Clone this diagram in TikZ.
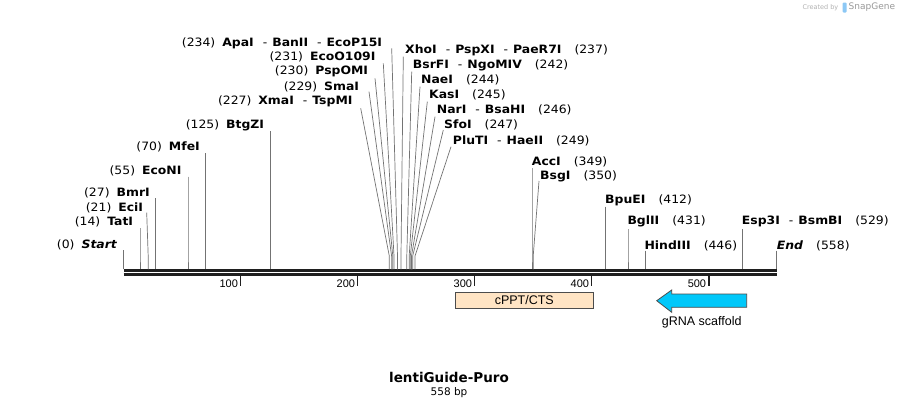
\documentclass[tikz,border=0pt]{standalone}
\usepackage{fontspec}
\setmainfont{DejaVu Sans}
\newfontfamily\labfont{DejaVu Sans}[FakeStretch=1.08]
\newfontfamily\arialf{Liberation Sans}
\newcommand{\enzsep}{\hspace{9pt}-\hspace{5pt}}
\newcommand{\numL}[1]{(#1)\hspace{7pt}}
\newcommand{\numR}[1]{\hspace{13pt}(#1)}
\newcommand{\cutline}[3]{%
  \coordinate (#1t) at (#2);
  \coordinate (#1b) at (#3);
  \draw[cut] (#1t) -- (#1b) -- (#1b |- bb);}
\begin{document}
\begin{tikzpicture}[x=1pt,y=-1pt,
  lab/.style={font=\labfont\fontsize{11.5}{13}\selectfont, inner sep=0pt},
  labL/.style={lab, anchor=east},
  labR/.style={lab, anchor=west},
  cut/.style={draw=black!55, line width=0.7pt},
  backbone/.style={draw=black!88},
  tickmark/.style={draw=black!88, line width=1.4pt},
  ticklab/.style={font=\arialf\fontsize{11}{13}\selectfont, inner sep=0pt, anchor=base east},
  featlab/.style={font=\arialf\fontsize{12.5}{14}\selectfont, inner sep=0pt}]
\useasboundingbox (0,0) rectangle (900,408);
\fill[white] (0,0) rectangle (900,408);
\coordinate (bb) at (0,269.3);

% backbone
\coordinate (bs) at (123.6,270.6);
\coordinate (be) at (776.6,270.6);
\draw[backbone, line width=2.8pt] (bs) -- (be);
\coordinate (bs2) at (123.6,274.6);
\coordinate (be2) at (776.6,274.6);
\draw[backbone, line width=2.4pt] (bs2) -- (be2);

% ticks
\foreach \t/\x in {100/240.6,200/357.7,300/474.7,400/591.7,500/708.8}{
  \coordinate (tk\t) at (\x,275.5);
  \draw[tickmark] (tk\t) -- ++(0,10);
  \node[ticklab] (tl\t) at (\x-2.5,287) {\t};
}

% left labels
\node[labL] (apa) at (382.3,43.3) {\numL{234}\textbf{ApaI}\enzsep\textbf{BanII}\enzsep\textbf{EcoP15I}};
\node[labL] (ecoo) at (375.7,56.8) {\numL{231}\textbf{EcoO109I}};
\node[labL] (psp) at (368.3,71.7) {\numL{230}\textbf{PspOMI}};
\node[labL] (sma) at (359.3,86.7) {\numL{229}\textbf{SmaI}};
\node[labL] (xma) at (352.7,101.7) {\numL{227}\textbf{XmaI}\enzsep\textbf{TspMI}};
\node[labL] (btg) at (264.3,125) {\numL{125}\textbf{BtgZI}};
\node[labL] (mfe) at (200,146.7) {\numL{70}\textbf{MfeI}};
\node[labL] (econ) at (181.7,171) {\numL{55}\textbf{EcoNI}};
\node[labL] (bmr) at (150,192.7) {\numL{27}\textbf{BmrI}};
\node[labL] (eci) at (143.3,207.7) {\numL{21}\textbf{EciI}};
\node[labL] (tat) at (133.3,221.7) {\numL{14}\textbf{TatI}};
\node[labL] (start) at (117.5,245) {\numL{0}\textbf{\itshape Start}};

% right labels
\node[labR] (xho) at (405,50) {\textbf{XhoI}\enzsep\textbf{PspXI}\enzsep\textbf{PaeR7I}\numR{237}};
\node[labR] (bsrf) at (412.7,65) {\textbf{BsrFI}\enzsep\textbf{NgoMIV}\numR{242}};
\node[labR] (nae) at (421,79.6) {\textbf{NaeI}\numR{244}};
\node[labR] (kas) at (429,95) {\textbf{KasI}\numR{245}};
\node[labR] (nar) at (436.7,110) {\textbf{NarI}\enzsep\textbf{BsaHI}\numR{246}};
\node[labR] (sfo) at (444,125) {\textbf{SfoI}\numR{247}};
\node[labR] (plu) at (452.7,141) {\textbf{PluTI}\enzsep\textbf{HaeII}\numR{249}};
\node[labR] (acc) at (531.7,161.7) {\textbf{AccI}\numR{349}};
\node[labR] (bsg) at (540,176.7) {\textbf{BsgI}\numR{350}};
\node[labR] (bpu) at (605,200.7) {\textbf{BpuEI}\numR{412}};
\node[labR] (bgl) at (627.3,221.7) {\textbf{BglII}\numR{431}};
\node[labR] (hind) at (644.3,245.7) {\textbf{HindIII}\numR{446}};
\node[labR] (esp) at (741.7,221.7) {\textbf{Esp3I}\enzsep\textbf{BsmBI}\numR{529}};
\node[labR] (endl) at (776.7,245.7) {\textbf{\itshape End}\numR{558}};

% cut lines (left)
\cutline{apa}{391.7,48.3}{397.5,256}
\cutline{ecoo}{383.3,63.3}{394.0,256}
\cutline{psp}{375,78.3}{392.8,256}
\cutline{sma}{369,91.7}{391.6,256}
\cutline{xma}{360.7,108.3}{389.3,256}
\cutline{btg}{269.9,131}{269.9,256}
\cutline{mfe}{205.5,153}{205.5,256}
\cutline{econ}{188,176.7}{188,256}
\cutline{bmr}{155.2,198}{155.2,256}
\cutline{eci}{146.7,212.7}{148.2,256}
\cutline{tat}{140,228}{140,256}
\cutline{start}{123.6,250}{123.6,256}
% cut lines (right)
\cutline{xho}{403.3,56.7}{401.0,256}
\cutline{bsrf}{411.7,71.7}{406.8,256}
\cutline{nae}{420,86.7}{409.2,256}
\cutline{kas}{427.3,101.7}{410.3,256}
\cutline{nar}{435,116.7}{411.5,256}
\cutline{sfo}{443.3,130}{412.7,256}
\cutline{plu}{451,146.7}{415.0,256}
\cutline{acc}{532,168}{532,256}
\cutline{bsg}{539,181}{533.2,256}
\cutline{bpu}{605.7,206.7}{605.7,256}
\cutline{bgl}{628,229}{628,256}
\cutline{hind}{645.6,250.5}{645.6,256}
\cutline{esp}{742.7,229}{742.7,256}
\cutline{endc}{776.6,250.5}{776.6,256}

% features
\node[draw=black!70, line width=0.8pt, fill={rgb,255:red,255;green,228;blue,196},
      minimum width=138.5pt, minimum height=16pt, inner sep=0pt, featlab] (cppt) at (524.3,300.3) {cPPT/CTS};
\coordinate (ga) at (746.7,294);
\draw[draw=black!70, line width=0.8pt, fill={rgb,255:red,0;green,200;blue,250}]
  (ga) -- (671.7,294) -- (671.7,290) -- (656.7,300.7) -- (671.7,312.3) -- (671.7,307.3) -- (746.7,307.3) -- cycle;
\node[featlab] (grna) at (701.7,322.5) {gRNA scaffold};

% title
\node[font=\bfseries\fontsize{13.5}{16}\selectfont, inner sep=0pt] (title) at (449,377) {lentiGuide-Puro};
\node[font=\fontsize{10.5}{12}\selectfont, inner sep=0pt] (len) at (449,392.5) {558 bp};

% created by
\node[font=\fontsize{6.5}{8}\selectfont, text=black!30, inner sep=0pt, anchor=east] (cb) at (838.5,7.5) {Created by};
\fill[fill={rgb,255:red,140;green,200;blue,245}, rounded corners=1pt] (842.5,2.5) rectangle (846.5,12.5);
\node[font=\fontsize{9}{10}\selectfont, text=black!40, inner sep=0pt, anchor=west] (sg) at (848.5,7.5) {SnapGene};
\end{tikzpicture}
\end{document}
